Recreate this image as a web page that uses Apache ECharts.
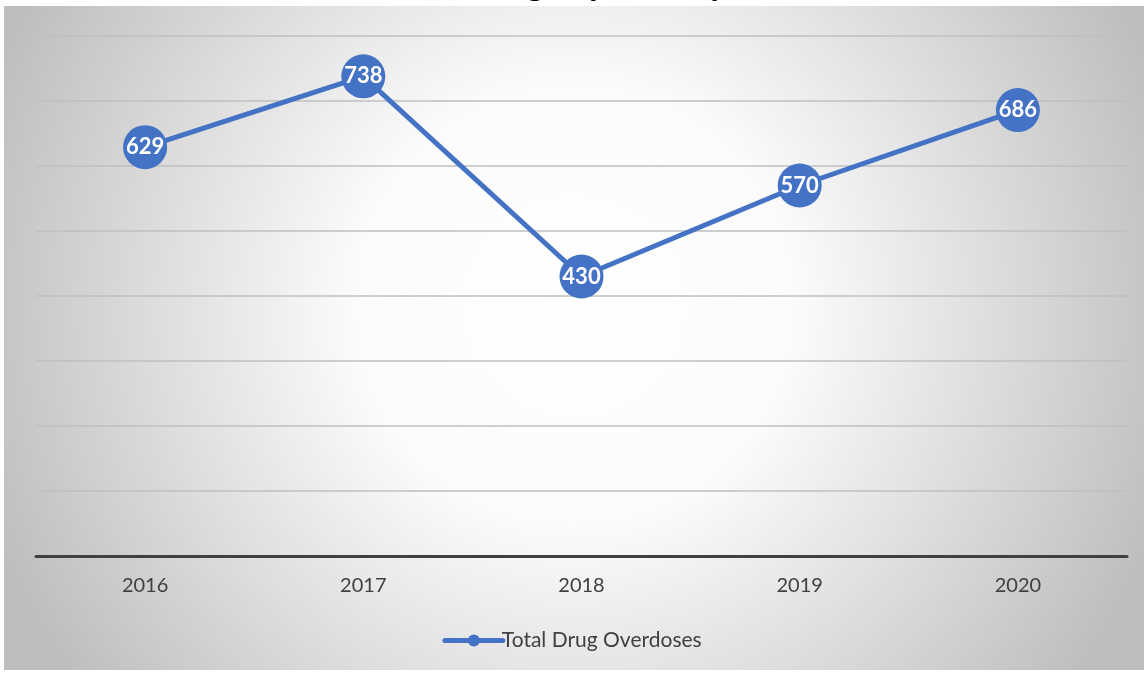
<!DOCTYPE html>
<html>
<head>
<meta charset="utf-8">
<script src="https://cdn.jsdelivr.net/npm/echarts@6/dist/echarts.min.js"></script>
<style>
html,body{margin:0;padding:0;background:#fff;}
#c{width:1144px;height:673px;}
</style>
</head>
<body>
<div id="c"></div>
<script>
const titleText = "Total Overdoses, Drugs by County";
const years = ["2016", "2017", "2018", "2019", "2020"];
const overdoses = [629, 738, 430, 570, 686];
const seriesName = "Total Drug Overdoses";

const chart = echarts.init(document.getElementById('c'));
chart.setOption({
  animation: false,
  graphic: [
    {
      type: 'rect', z: -10, silent: true,
      shape: { x: 4, y: 6, width: 1140, height: 664 },
      style: {
        fill: new echarts.graphic.RadialGradient(0.5, 0.45, 0.95, [
          { offset: 0, color: '#ffffff' },
          { offset: 0.35, color: '#fbfbfb' },
          { offset: 1, color: '#bdbdbd' }
        ])
      }
    },
    {
      type: 'text', z: 100,
      x: 204, y: -35,
      style: {
        text: titleText,
        font: 'italic bold 37px Lato',
        fill: '#000000'
      }
    }
  ],
  grid: { left: 36, right: 17, top: 36, bottom: 117, containLabel: false },
  xAxis: {
    type: 'category',
    data: years,
    boundaryGap: true,
    axisLine: { lineStyle: { color: '#404040', width: 3 } },
    axisTick: { show: false },
    axisLabel: { color: '#404040', fontSize: 20, fontFamily: 'Lato', margin: 20 }
  },
  yAxis: {
    type: 'value',
    min: 0, max: 800, interval: 100,
    axisLabel: { show: false },
    axisLine: { show: false },
    axisTick: { show: false },
    splitLine: { lineStyle: { color: '#bfbfbf', width: 1.5 } }
  },
  legend: {
    bottom: 17,
    left: 'center',
    itemWidth: 58,
    itemHeight: 15,
    itemGap: 10,
    lineStyle: { width: 5, cap: 'round' },
    textStyle: { color: '#404040', fontSize: 21, fontFamily: 'Lato', padding: [0, 0, 0, -6] },
    data: [seriesName]
  },
  series: [{
    name: seriesName,
    type: 'line',
    data: overdoses,
    symbol: 'circle',
    symbolSize: 44,
    lineStyle: { color: '#4472C4', width: 5 },
    itemStyle: { color: '#4472C4' },
    label: {
      show: true,
      position: 'inside',
      color: '#ffffff',
      fontSize: 22,
      fontWeight: 'bold',
      fontFamily: 'Lato'
    }
  }]
});
</script>
</body>
</html>
